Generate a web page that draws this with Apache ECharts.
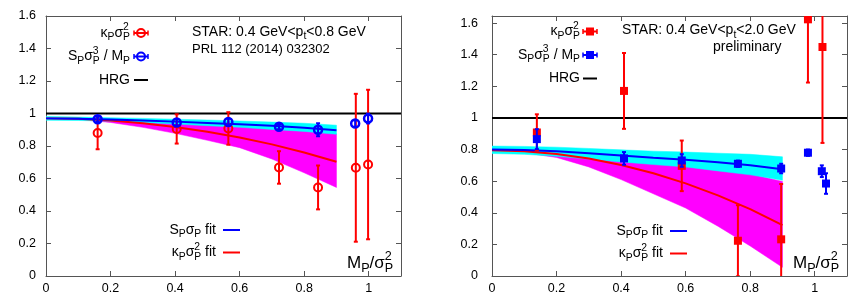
<!DOCTYPE html>
<html><head><meta charset="utf-8">
<script src="https://cdn.jsdelivr.net/npm/echarts@6/dist/echarts.min.js"></script>
<style>html,body{margin:0;padding:0;background:#fff}#c{width:858px;height:305px}</style>
</head><body><div id="c"></div>
<script>
// ---------------- DATA ----------------
// Left panel: 0.4 < pt < 0.8 GeV
const xL_kappa = [0.16, 0.405, 0.565, 0.722, 0.843, 0.96, 0.998];
const yL_kappa = [0.88, 0.905, 0.908, 0.668, 0.545, 0.666, 0.686];
const eL_kappa = [0.10, 0.09, 0.10, 0.10, 0.135, 0.455, 0.46];
const xL_skew = [0.16, 0.405, 0.565, 0.722, 0.843, 0.958, 0.998];
const yL_skew = [0.965, 0.945, 0.948, 0.918, 0.90, 0.938, 0.969];
const eL_skew = [0.015, 0.02, 0.02, 0.015, 0.04, 0.02, 0.03];
const fitX = [0, 0.1, 0.2, 0.3, 0.4, 0.5, 0.6, 0.7, 0.8, 0.9];
const fitL_kappa = [0.97, 0.967, 0.957, 0.94, 0.917, 0.888, 0.852, 0.81, 0.76, 0.703];
const fitL_skew = [0.970, 0.968, 0.963, 0.957, 0.950, 0.942, 0.934, 0.924, 0.912, 0.897];
const bandL_kappa_hi = [0.972, 0.970, 0.965, 0.955, 0.94, 0.93, 0.92, 0.91, 0.895, 0.875];
const bandL_kappa_lo = [0.968, 0.963, 0.945, 0.915, 0.878, 0.835, 0.79, 0.72, 0.635, 0.545];
const bandL_skew_hi = [0.982, 0.978, 0.974, 0.970, 0.965, 0.96, 0.954, 0.947, 0.94, 0.928];
const bandL_skew_lo = [0.958, 0.957, 0.953, 0.945, 0.935, 0.925, 0.915, 0.902, 0.89, 0.872];
// Right panel: 0.4 < pt < 2.0 GeV
const xR_kappa = [0.139, 0.409, 0.588, 0.762, 0.896, 0.979, 1.024];
const yR_kappa = [0.908, 1.171, 0.697, 0.223, 0.232, 1.624, 1.449];
const eR_kappa = [0.115, 0.24, 0.16, 0.225, 0.35, 0.4, 0.607];
const xR_skew = [0.139, 0.409, 0.588, 0.762, 0.896, 0.979, 1.022, 1.035];
const yR_skew = [0.866, 0.744, 0.731, 0.71, 0.68, 0.78, 0.663, 0.585];
const eR_skew = [0.063, 0.04, 0.04, 0.02, 0.03, 0.02, 0.037, 0.065];
const fitR_kappa = [0.795, 0.789, 0.772, 0.743, 0.702, 0.65, 0.586, 0.51, 0.423, 0.322];
const fitR_skew = [0.800, 0.797, 0.789, 0.776, 0.762, 0.748, 0.735, 0.72, 0.70, 0.676];
const bandR_kappa_hi = [0.80, 0.795, 0.785, 0.765, 0.74, 0.72, 0.70, 0.675, 0.645, 0.598];
const bandR_kappa_lo = [0.79, 0.78, 0.75, 0.69, 0.61, 0.52, 0.43, 0.315, 0.19, 0.055];
const bandR_skew_hi = [0.822, 0.82, 0.815, 0.807, 0.798, 0.79, 0.784, 0.777, 0.77, 0.754];
const bandR_skew_lo = [0.775, 0.77, 0.757, 0.74, 0.722, 0.705, 0.69, 0.665, 0.64, 0.606];
const hrgX = [0, 1.1];
const hrgY = [1, 1];
const xTicks = [0, 0.2, 0.4, 0.6, 0.8, 1];
const yTicks = [0, 0.2, 0.4, 0.6, 0.8, 1, 1.2, 1.4, 1.6];

// ---------------- HELPERS ----------------
const FONT = '"Liberation Sans", Arial, sans-serif';
const RED = '#ff0000', BLUE = '#0000ff', MAG = '#ff00ff', CYAN = '#00ffff';
const mctx = document.createElement('canvas').getContext('2d');
function mw(t, fs) { mctx.font = fs + 'px ' + FONT; return mctx.measureText(t).width; }
function mathText(tokens, x, y, fs, align, fill) {
  const sfs = fs * 0.74; let cx = 0; const pieces = [];
  tokens.forEach(tk => {
    if (typeof tk === 'string') { pieces.push({t: tk, x: cx, dy: 0, fs: fs}); cx += mw(tk, fs); }
    else {
      let w = 0;
      if (tk.sub) { pieces.push({t: tk.sub, x: cx, dy: fs * 0.3, fs: sfs}); w = Math.max(w, mw(tk.sub, sfs)); }
      if (tk.sup) { pieces.push({t: tk.sup, x: cx, dy: -fs * 0.4, fs: sfs}); w = Math.max(w, mw(tk.sup, sfs)); }
      cx += w;
    }
  });
  const x0 = align === 'right' ? x - cx : x;
  return pieces.map(p => ({type: 'text', silent: true, style: {text: p.t, x: x0 + p.x, y: y + p.dy,
    font: p.fs + 'px ' + FONT, fill: fill || '#000', textAlign: 'left', textVerticalAlign: 'middle'}}));
}
function line(x1, y1, x2, y2, color, w) {
  return {type: 'line', silent: true, shape: {x1, y1, x2, y2}, style: {stroke: color, lineWidth: w || 2}};
}
function legendSym(cx, cy, color, kind) {
  const els = [line(cx - 7, cy, cx + 7, cy, color, 2), line(cx - 7, cy - 2.5, cx - 7, cy + 2.5, color, 1.5),
               line(cx + 7, cy - 2.5, cx + 7, cy + 2.5, color, 1.5)];
  if (kind === 'circle') els.push({type: 'circle', silent: true, shape: {cx, cy, r: 4}, style: {fill: 'none', stroke: color, lineWidth: 2}});
  else els.push({type: 'rect', silent: true, shape: {x: cx - 4, y: cy - 4, width: 8, height: 8}, style: {fill: color}});
  return els;
}

function axisBase(gi, min, max, interval, pos, showLabel, margin) {
  return {type: 'value', gridIndex: gi, min, max, interval, position: pos,
    axisLine: {show: true, onZero: false, lineStyle: {color: '#555', width: 1}},
    axisTick: {show: true, inside: true, length: 5, lineStyle: {color: '#555', width: 1}},
    splitLine: {show: false},
    axisLabel: {show: showLabel, color: '#000', fontSize: 12.5, fontFamily: FONT, margin: margin,
      showMaxLabel: max === 1.6, formatter: v => String(+v.toFixed(2))}};
}

function bandSeries(xi, xs, lo, hi, color) {
  return {type: 'custom', xAxisIndex: xi, yAxisIndex: xi, clip: true, silent: true, z: 1,
    data: xs.map((x, i) => [x, lo[i], hi[i]]),
    renderItem: (params, api) => {
      if (params.dataIndex !== 0) return null;
      const pts = [];
      for (let i = 0; i < xs.length; i++) pts.push(api.coord([xs[i], hi[i]]));
      for (let i = xs.length - 1; i >= 0; i--) pts.push(api.coord([xs[i], lo[i]]));
      return {type: 'polygon', shape: {points: pts}, style: {fill: color, stroke: color, lineWidth: 0.5}};
    }};
}
function fitSeries(xi, xs, ys, color) {
  return {type: 'line', xAxisIndex: xi, yAxisIndex: xi, data: xs.map((x, i) => [x, ys[i]]),
    showSymbol: false, silent: true, z: 2, lineStyle: {color, width: 2}, clip: true};
}
function pointSeries(xi, xs, ys, es, color, kind, z) {
  return {type: 'custom', xAxisIndex: xi, yAxisIndex: xi, clip: true, silent: true, z: z,
    data: xs.map((x, i) => [x, ys[i], es[i]]),
    renderItem: (params, api) => {
      const x = api.value(0), y = api.value(1), e = api.value(2);
      const p = api.coord([x, y]), t = api.coord([x, y + e]), b = api.coord([x, y - e]);
      const st = {stroke: color, lineWidth: 2};
      const ch = [
        {type: 'line', shape: {x1: p[0], y1: t[1], x2: p[0], y2: b[1]}, style: st},
        {type: 'line', shape: {x1: p[0] - 2, y1: t[1], x2: p[0] + 2, y2: t[1]}, style: st},
        {type: 'line', shape: {x1: p[0] - 2, y1: b[1], x2: p[0] + 2, y2: b[1]}, style: st}];
      if (kind === 'circle') ch.push({type: 'circle', shape: {cx: p[0], cy: p[1], r: 4}, style: {fill: 'none', stroke: color, lineWidth: color === BLUE ? 2.5 : 2}});
      else ch.push({type: 'rect', shape: {x: p[0] - 4, y: p[1] - 4, width: 8, height: 8}, style: {fill: color}});
      return {type: 'group', children: ch};
    }};
}
function hrgSeries(xi) {
  return {type: 'line', xAxisIndex: xi, yAxisIndex: xi, data: hrgX.map((x, i) => [x, hrgY[i]]),
    showSymbol: false, silent: true, z: 1.5, lineStyle: {color: '#000', width: 2}};
}

// ---------------- GRAPHIC TEXTS ----------------
const kap = ['κ', {sub: 'P'}, 'σ', {sub: 'P', sup: '2'}];
const skw = ['S', {sub: 'P'}, 'σ', {sub: 'P', sup: '3'}, ' / M', {sub: 'P'}];
const g = [];
function panelLegend(tx, sx, ys, kind) {
  g.push(...mathText(kap, tx, ys[0], 14, 'right'));
  g.push(...legendSym(sx, ys[0], RED, kind));
  g.push(...mathText(skw, tx, ys[1], 14, 'right'));
  g.push(...legendSym(sx, ys[1], BLUE, kind));
  g.push(...mathText(['HRG'], tx, ys[2], 14, 'right'));
  g.push(line(sx - 7, ys[2], sx + 7, ys[2], '#000', 2));
}
function fitLegend(tx, lx, ys) {
  g.push(...mathText(['S', {sub: 'P'}, 'σ', {sub: 'P'}, ' fit'], tx, ys[0], 14, 'right'));
  g.push(line(lx, ys[0], lx + 17, ys[0], BLUE, 2));
  g.push(...mathText(kap.concat([' fit']), tx, ys[1], 14, 'right'));
  g.push(line(lx, ys[1], lx + 17, ys[1], RED, 2));
}
panelLegend(130, 141, [33, 56.5, 80], 'circle');
panelLegend(580, 590, [31.5, 55, 78.5], 'square');
fitLegend(216, 223, [230, 252.5]);
fitLegend(663, 670, [231, 253.5]);
g.push(...mathText(['STAR: 0.4 GeV<p', {sub: 't'}, '<0.8 GeV'], 192, 32, 14, 'left'));
g.push(...mathText(['PRL 112 (2014) 032302'], 192, 49.5, 13, 'left'));
g.push(...mathText(['STAR: 0.4 GeV<p', {sub: 't'}, '<2.0 GeV'], 622, 30.5, 14, 'left'));
g.push(...mathText(['preliminary'], 713, 47.5, 14, 'left'));
const mtitle = ['M', {sub: 'P'}, '/σ', {sub: 'P', sup: '2'}];
g.push(...mathText(mtitle, 347, 263, 17, 'left'));
g.push(...mathText(mtitle, 793, 263, 17, 'left'));

// ---------------- CHART ----------------
const chart = echarts.init(document.getElementById('c'), null, {renderer: 'canvas'});
const option = {
  animation: false,
  backgroundColor: '#fff',
  grid: [{left: 46, top: 16, width: 355, height: 260}, {left: 492, top: 16, width: 355, height: 260}],
  xAxis: [axisBase(0, 0, 1.1, 0.2, 'bottom', true, 6), axisBase(1, 0, 1.1, 0.2, 'bottom', true, 6),
          axisBase(0, 0, 1.1, 0.2, 'top', false, 6), axisBase(1, 0, 1.1, 0.2, 'top', false, 6)],
  yAxis: [axisBase(0, 0, 1.6, 0.2, 'left', true, 10), axisBase(1, 0, 1.645, 0.2, 'left', true, 14),
          axisBase(0, 0, 1.6, 0.2, 'right', false, 6), axisBase(1, 0, 1.645, 0.2, 'right', false, 6)],
  series: [
    hrgSeries(0),
    bandSeries(0, fitX, bandL_kappa_lo, bandL_kappa_hi, MAG),
    bandSeries(0, fitX, bandL_skew_lo, bandL_skew_hi, CYAN),
    fitSeries(0, fitX, fitL_kappa, RED),
    fitSeries(0, fitX, fitL_skew, BLUE),
    pointSeries(0, xL_kappa, yL_kappa, eL_kappa, RED, 'circle', 3),
    pointSeries(0, xL_skew, yL_skew, eL_skew, BLUE, 'circle', 4),
    hrgSeries(1),
    bandSeries(1, fitX, bandR_kappa_lo, bandR_kappa_hi, MAG),
    bandSeries(1, fitX, bandR_skew_lo, bandR_skew_hi, CYAN),
    fitSeries(1, fitX, fitR_kappa, RED),
    fitSeries(1, fitX, fitR_skew, BLUE),
    pointSeries(1, xR_kappa, yR_kappa, eR_kappa, RED, 'square', 3),
    pointSeries(1, xR_skew, yR_skew, eR_skew, BLUE, 'square', 4)
  ],
  graphic: {elements: g}
};
chart.setOption(option);
</script></body></html>
